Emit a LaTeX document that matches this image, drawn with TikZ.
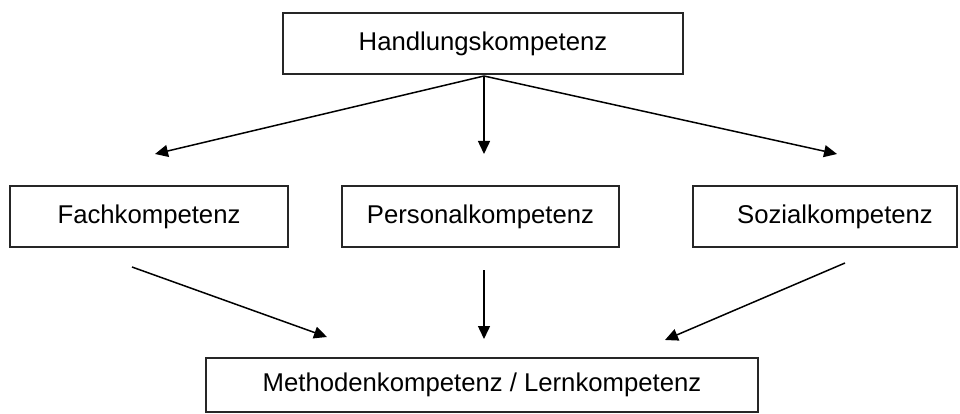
\documentclass[tikz,border=0pt]{standalone}
\usepackage{fontspec}
\setmainfont{Liberation Sans}
\usetikzlibrary{arrows.meta}
\begin{document}
\begin{tikzpicture}[x=1pt,y=-1pt,
  box/.style={draw=black!85,line width=1.6pt,inner sep=0pt,font=\fontsize{25.7}{30}\selectfont},
  conn/.style={line width=1.5pt,-{Triangle[length=13pt,width=12pt]}}]
\useasboundingbox (0,0) rectangle (960,414);
\node[box,minimum width=400pt,minimum height=61pt] (H) at (483,43.5) {Handlungskompetenz};
\node[box,minimum width=278pt,minimum height=61pt] (F) at (149,216.5) {Fachkompetenz};
\node[box,minimum width=277pt,minimum height=61pt] (P) at (480.5,216.5) {Personalkompetenz};
\node[box,minimum width=264pt,minimum height=61pt] (S) at (825,216.5) {\hspace{20pt}Sozialkompetenz};
\node[box,minimum width=552pt,minimum height=54pt] (M) at (482,385) {Methodenkompetenz / Lernkompetenz};
\coordinate (hs) at (484,76);
\coordinate (ft) at (155,154);
\coordinate (pt) at (484,154);
\coordinate (st) at (837,154);
\coordinate (fs) at (132,267);
\coordinate (ps) at (484,270);
\coordinate (ss) at (845,263);
\coordinate (mf) at (327,337);
\coordinate (mp) at (484,339);
\coordinate (ms) at (665,340);
\draw[conn] (hs) -- (ft);
\draw[conn] (hs) -- (pt);
\draw[conn] (hs) -- (st);
\draw[conn] (fs) -- (mf);
\draw[conn] (ps) -- (mp);
\draw[conn] (ss) -- (ms);
\end{tikzpicture}
\end{document}
